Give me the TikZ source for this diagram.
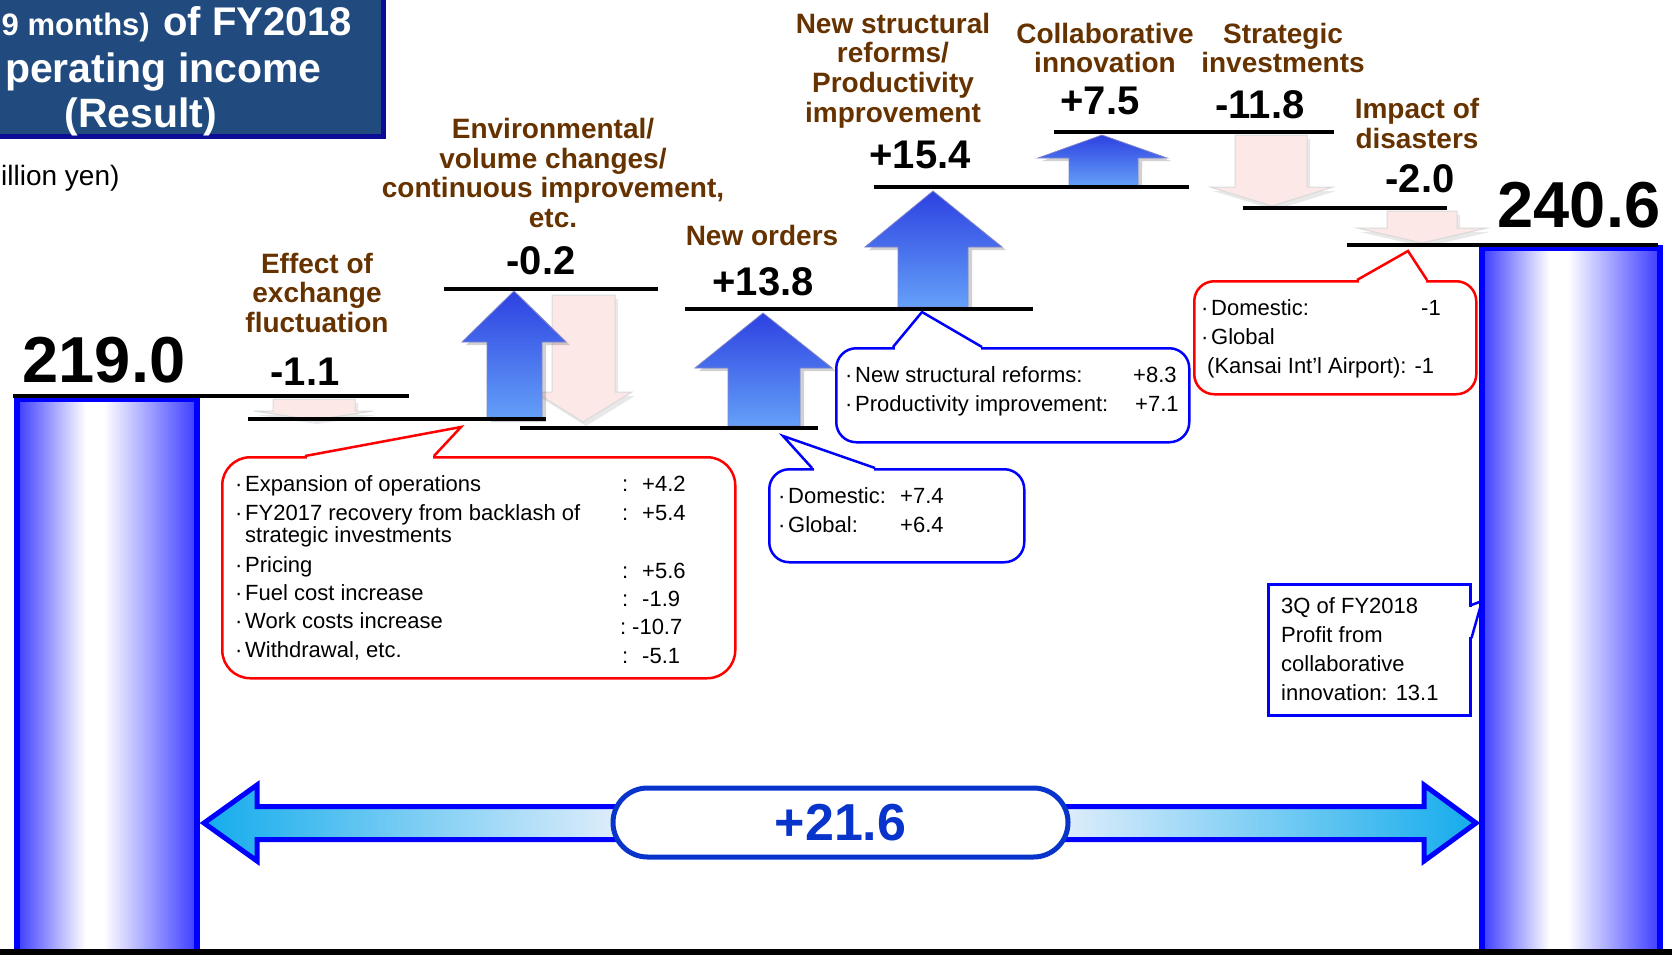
\documentclass[tikz,border=0pt]{standalone}
\usepackage{fontspec}
\setmainfont{Liberation Sans}
\usetikzlibrary{shapes.misc,shadows,calc}
\definecolor{titlebg}{RGB}{33,74,126}
\definecolor{titlesh}{RGB}{12,12,150}
\definecolor{brownc}{RGB}{102,51,0}
\definecolor{barblue}{RGB}{0,0,255}
\definecolor{baredge}{RGB}{60,60,255}
\definecolor{arrtop}{RGB}{45,65,225}
\definecolor{arrbot}{RGB}{100,160,248}
\definecolor{arredge}{RGB}{40,50,170}
\definecolor{pinkc}{RGB}{253,232,232}
\definecolor{cyanc}{RGB}{20,172,236}
\definecolor{palec}{RGB}{232,240,252}
\definecolor{totblue}{RGB}{8,52,204}
\pgfdeclarehorizontalshading{barsh}{100bp}{color(0bp)=(baredge); color(25bp)=(baredge); color(44bp)=(white); color(49bp)=(white); color(75bp)=(baredge); color(100bp)=(baredge)}
\pgfdeclarehorizontalshading{dblsh}{100bp}{color(0bp)=(cyanc); color(25bp)=(cyanc); color(42bp)=(palec); color(58bp)=(palec); color(75bp)=(cyanc); color(100bp)=(cyanc)}
\newcommand\bul{\makebox[10pt][l]{·}}
\begin{document}
\begin{tikzpicture}[x=1pt, y=-1pt,
  lvl/.style={line width=4pt},
  upa/.style={top color=arrtop, bottom color=arrbot, draw=arredge!60, line width=0.8pt, drop shadow={opacity=0.3, shadow xshift=4pt, shadow yshift=-3pt, fill=black!60}},
  dna/.style={fill=pinkc, draw=black!15, line width=1pt, drop shadow={opacity=0.15, shadow xshift=3pt, shadow yshift=-4pt, fill=black!60}},
  brn/.style={text=brownc, font=\bfseries\fontsize{28}{29.5}\selectfont, align=center, inner sep=0pt, anchor=base},
  val/.style={font=\bfseries\fontsize{40}{44}\selectfont, inner sep=0pt, anchor=base},
  big/.style={font=\bfseries\fontsize{65}{70}\selectfont, inner sep=0pt, anchor=base},
  ctx/.style={font=\fontsize{22}{29}\selectfont, inner sep=0pt, anchor=base west, align=left},
  rbox/.style={draw=red, fill=white, line width=2.5pt, rounded corners=28pt, inner sep=0pt, anchor=north west},
  bbox/.style={draw=barblue, fill=white, line width=2.5pt, rounded corners=20pt, inner sep=0pt, anchor=north west},
  ptr/.style={line width=2.5pt, line join=miter},
  barst/.style={shading=barsh, shading angle=0, draw=barblue, line width=6pt},
  ttl/.style={text=white, inner sep=0pt}
]
\useasboundingbox (0,0) rectangle (1672,955);

% title box
\fill[titlesh] (-10,-10) rectangle (386,139);
\fill[titlebg] (-10,-10) rectangle (381,134);
\node[ttl, anchor=base east, font=\bfseries\fontsize{31}{34}\selectfont] (t1) at (150,36) {9 months)};
\node[ttl, anchor=base west, font=\bfseries\fontsize{40}{44}\selectfont] (t2) at (163,36) {of FY2018};
\node[ttl, anchor=base east, font=\bfseries\fontsize{41}{44}\selectfont] (t3) at (322,83) {perating income};
\node[ttl, anchor=base, font=\bfseries\fontsize{41}{44}\selectfont] (t4) at (141,128) {(Result)};
\node[inner sep=0pt, anchor=base west, font=\fontsize{28}{30}\selectfont] (unit) at (1,185) {illion yen)};

% bars
\shadedraw[barst] (17,399) rectangle (197,953);
\shadedraw[barst] (1482,248) rectangle (1660,953);

% pink (decrease) arrows
\path[dna] (273,399) -- (355,399) -- (355,411) -- (373,411) -- (314,420) -- (254,411) -- (273,411) -- cycle;
\path[dna] (552,295) -- (615,295) -- (615,392) -- (632,392) -- (583,422) -- (535,392) -- (552,392) -- cycle;
\path[dna] (1235,135) -- (1307,135) -- (1307,187) -- (1333,187) -- (1272,206) -- (1210,187) -- (1235,187) -- cycle;
\path[dna] (1387,211) -- (1457,211) -- (1457,228) -- (1487,228) -- (1422,243) -- (1357,228) -- (1387,228) -- cycle;

% blue (increase) arrows
\path[upa] (487,419) -- (487,342) -- (462,342) -- (514,291) -- (566,342) -- (542,342) -- (542,419) -- cycle;
\path[upa] (728,426) -- (728,368) -- (695,368) -- (763,313) -- (832,368) -- (800,368) -- (800,426) -- cycle;
\path[upa] (898,307) -- (898,247) -- (865,247) -- (933,191) -- (1002,247) -- (968,247) -- (968,307) -- cycle;
\path[upa] (1069,186) -- (1069,158) -- (1038,158) -- (1102,135) -- (1167,158) -- (1138,158) -- (1138,186) -- cycle;

% level lines
\draw[lvl] (13,396) -- (409,396);
\draw[lvl] (248,419) -- (546,419);
\draw[lvl] (444,289) -- (658,289);
\draw[lvl] (520,428) -- (818,428);
\draw[lvl] (685,309) -- (1033,309);
\draw[lvl] (874,187) -- (1189,187);
\draw[lvl] (1054,132) -- (1334,132);
\draw[lvl] (1243,208) -- (1447,208);
\draw[lvl] (1347,245) -- (1658,245);

% totals
\node[big] (v0) at (104,382) {219.0};
\node[big] (v9) at (1579,227) {240.6};

% category labels (anchor = baseline of last line)
\node[brn] (l1) at (317,332) {Effect of\\exchange\\fluctuation};
\node[brn] (l2) at (553,227) {Environmental/\\volume changes/\\continuous improvement,\\etc.};
\node[brn] (l3) at (762,245) {New orders};
\node[brn] (l4) at (893,122) {New structural\\reforms/\\Productivity\\improvement};
\node[brn] (l5) at (1105,73) {Collaborative\\innovation};
\node[brn] (l6) at (1283,73) {Strategic\\investments};
\node[brn] (l7) at (1417,148) {Impact of\\disasters};

% values
\node[val] (d1) at (305,385) {-1.1};
\node[val] (d2) at (541,274) {-0.2};
\node[val] (d3) at (763,295) {+13.8};
\node[val] (d4) at (920,168) {+15.4};
\node[val] (d5) at (1100,115) {+7.5};
\node[val] (d6) at (1260,118) {-11.8};
\node[val] (d7) at (1420,192) {-2.0};

% callout 1 (red)
\node[rbox, minimum width=513pt, minimum height=221pt] (c1) at (221,456) {};
\coordinate (p1) at (461,427);
\fill[white] ($(c1.north west)+(85.5,-2.5)$) rectangle ($(c1.north west)+(211.5,2.5)$);
\draw[ptr, red] ($(c1.north west)+(84,0)$) -- (p1) -- ($(c1.north west)+(213,0)$);
\node[ctx] (c1a) at (235,491) {\bul Expansion of operations};
\node[ctx] (c1b) at (235,542) {\bul FY2017 recovery from backlash of\\[-7pt]\hspace*{10pt}strategic investments};
\node[ctx] (c1c) at (235,572) {\bul Pricing};
\node[ctx] (c1d) at (235,600) {\bul Fuel cost increase};
\node[ctx] (c1e) at (235,628) {\bul Work costs increase};
\node[ctx] (c1f) at (235,657) {\bul Withdrawal, etc.};
\node[ctx] (c1av) at (622,491) {\makebox[20pt][l]{:}+4.2};
\node[ctx] (c1bv) at (622,520) {\makebox[20pt][l]{:}+5.4};
\node[ctx] (c1cv) at (622,578) {\makebox[20pt][l]{:}+5.6};
\node[ctx] (c1dv) at (622,606) {\makebox[20pt][l]{:}-1.9};
\node[ctx] (c1ev) at (620,634) {\makebox[12pt][l]{:}-10.7};
\node[ctx] (c1fv) at (622,663) {\makebox[20pt][l]{:}-5.1};

% callout 2 (blue, new orders)
\node[bbox, minimum width=255pt, minimum height=93pt] (c2) at (768,468) {};
\coordinate (p2) at (783,436);
\fill[white] ($(c2.north west)+(45.5,-2.5)$) rectangle ($(c2.north west)+(105.5,2.5)$);
\draw[ptr, barblue] ($(c2.north west)+(44,0)$) -- (p2) -- ($(c2.north west)+(107,0)$);
\node[ctx] (c2a) at (778,532) {\bul\makebox[112pt][l]{Domestic:}+7.4\\\bul\makebox[112pt][l]{Global:}+6.4};

% callout 3 (blue, structural reforms)
\node[bbox, minimum width=353pt, minimum height=94pt] (c3) at (835,347) {};
\coordinate (p3) at (922,312);
\fill[white] ($(c3.north west)+(59.5,-2.5)$) rectangle ($(c3.north west)+(145.5,2.5)$);
\draw[ptr, barblue] ($(c3.north west)+(58,0)$) -- (p3) -- ($(c3.north west)+(147,0)$);
\node[ctx] (c3a) at (845,411) {\bul\makebox[278pt][l]{New structural reforms:}+8.3\\\bul\makebox[280pt][l]{Productivity improvement:}+7.1};

% callout 4 (red, disasters)
\node[rbox, rounded corners=20pt, minimum width=282pt, minimum height=113pt] (c4) at (1193,280) {};
\coordinate (p4) at (1408,251);
\fill[white] ($(c4.north west)+(165.5,-2.5)$) rectangle ($(c4.north west)+(232.5,2.5)$);
\draw[ptr, red] ($(c4.north west)+(164,0)$) -- (p4) -- ($(c4.north west)+(234,0)$);
\node[ctx] (c4a) at (1201,373) {\bul\makebox[210pt][l]{Domestic:}-1\\\bul Global\\\hspace*{6pt}(Kansai Int'l Airport): -1};

% callout 5 (rectangle)
\node[draw=barblue, fill=white, line width=2.5pt, inner sep=0pt, anchor=north west, minimum width=202pt, minimum height=131pt] (c5) at (1267,583) {};
\coordinate (p5) at (1482,601);
\fill[white] ($(c5.north east)+(-2.5,23.5)$) rectangle ($(c5.north east)+(2.5,53.5)$);
\draw[ptr, barblue] ($(c5.north east)+(0,22)$) -- (p5) -- ($(c5.north east)+(0,55)$);
\node[ctx] (c5a) at (1281,700) {3Q of FY2018\\Profit from\\collaborative\\innovation: 13.1};

% total change arrow
\shadedraw[draw=barblue, line width=5pt, shading=dblsh, shading angle=0]
  (204,823) -- (257,785) -- (257,806.5) -- (1424,806.5) -- (1424,785) -- (1476,823)
  -- (1424,861) -- (1424,839.5) -- (257,839.5) -- (257,861) -- cycle;
\node[rounded rectangle, draw=totblue, line width=5pt, fill=white, minimum width=455pt, minimum height=69pt, inner sep=0pt,
  text=totblue, font=\bfseries\fontsize{52}{56}\selectfont] (tot) at (840.5,822.5) {+21.6};

% bottom band
\fill[black] (0,949) rectangle (1672,956);
\end{tikzpicture}
\end{document}
